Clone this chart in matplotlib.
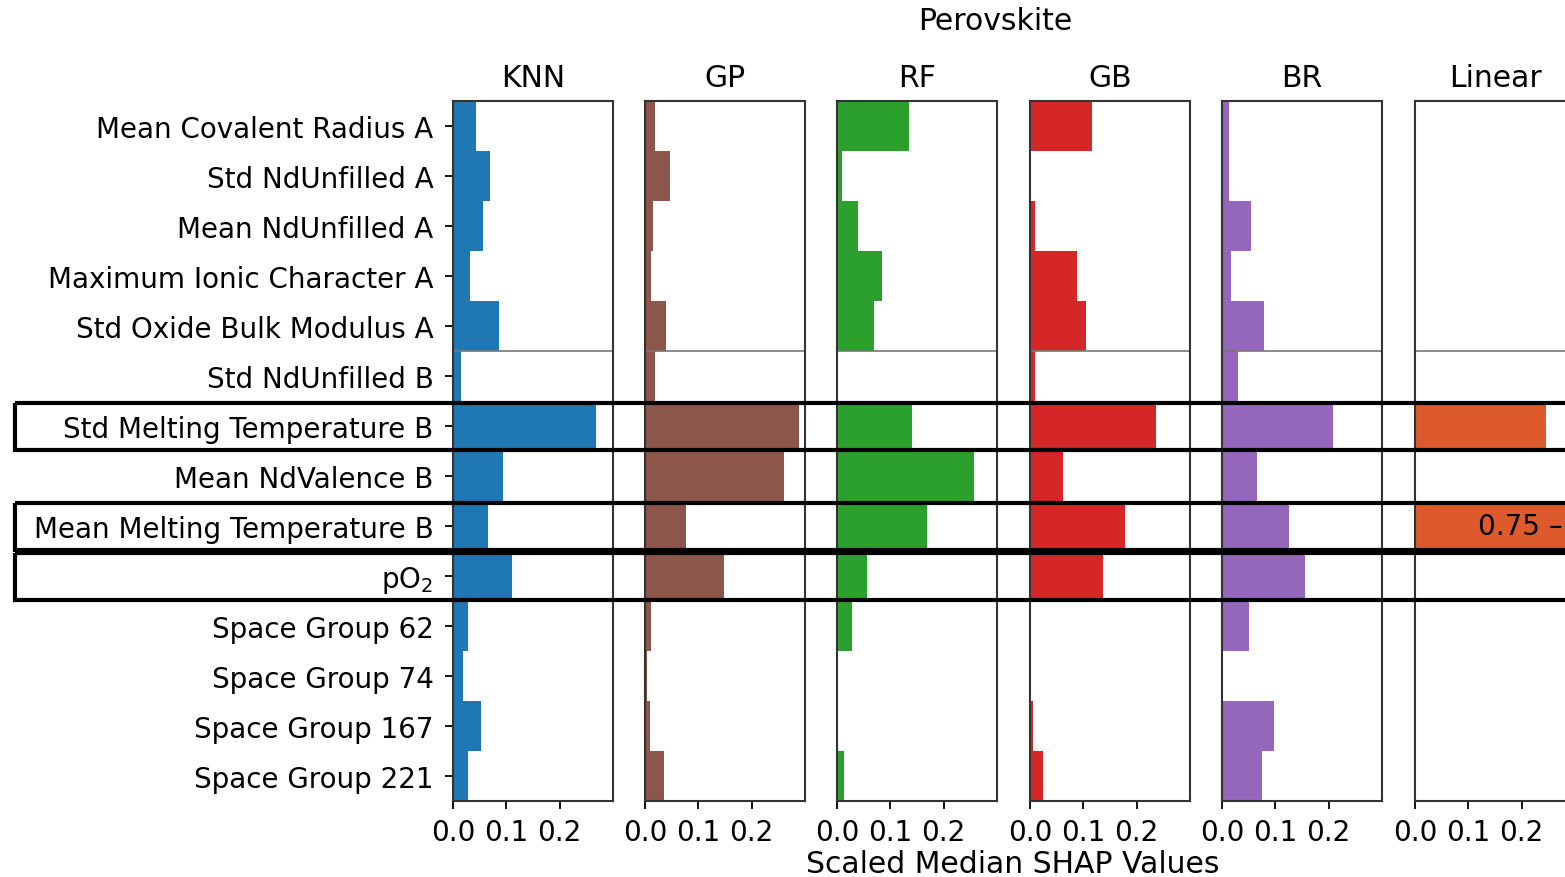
import matplotlib.pyplot as plt
import matplotlib.transforms as mtransforms
from matplotlib.patches import Rectangle

# Feature names, top to bottom
features = ['Mean Covalent Radius A', 'Std NdUnfilled A', 'Mean NdUnfilled A',
            'Maximum Ionic Character A', 'Std Oxide Bulk Modulus A', 'Std NdUnfilled B',
            'Std Melting Temperature B', 'Mean NdValence B', 'Mean Melting Temperature B',
            'pO$_2$', 'Space Group 62', 'Space Group 74', 'Space Group 167', 'Space Group 221']

models = ['KNN', 'GP', 'RF', 'GB', 'BR', 'Linear']
colors = ['#1f77b4', '#8c564b', '#2ca02c', '#d62728', '#9467bd', '#dd5a2c']

# Scaled median SHAP values
knn = [0.043, 0.069, 0.056, 0.032, 0.086, 0.015, 0.269, 0.093, 0.065, 0.110, 0.028, 0.019, 0.052, 0.028]
gp = [0.019, 0.047, 0.015, 0.011, 0.039, 0.019, 0.288, 0.260, 0.077, 0.148, 0.011, 0.004, 0.009, 0.036]
rf = [0.135, 0.009, 0.039, 0.084, 0.069, 0.002, 0.140, 0.256, 0.168, 0.056, 0.028, 0.0, 0.0, 0.013]
gb = [0.116, 0.0, 0.009, 0.088, 0.105, 0.009, 0.237, 0.062, 0.179, 0.136, 0.0, 0.0, 0.006, 0.024]
br = [0.013, 0.013, 0.054, 0.017, 0.079, 0.030, 0.209, 0.065, 0.125, 0.155, 0.050, 0.0, 0.097, 0.075]
linear = [0.0, 0.0, 0.0, 0.0, 0.0, 0.0, 0.245, 0.0, 0.75, 0.0, 0.0, 0.0, 0.0, 0.0]
values = [knn, gp, rf, gb, br, linear]

# rows framed with a black box
highlighted = ['Std Melting Temperature B', 'Mean Melting Temperature B', 'pO$_2$']

W, H = 1565, 878
fig = plt.figure(figsize=(W / 100, H / 100), dpi=100)
fs = 20      # tick labels
fs_t = 21.5  # titles and axis label

lefts = [453, 645, 837, 1030, 1222, 1415]
axes = []
for i, (name, vals, col) in enumerate(zip(models, values, colors)):
    ax = fig.add_axes([lefts[i] / W, (H - 802) / H, 160 / W, 700 / H])
    y = list(range(len(features)))
    ax.barh(y, vals, height=1.0, color=col)
    ax.set_ylim(len(features) - 0.5, -0.5)
    ax.set_xlim(0, 0.3)
    ax.set_xticks([0.0, 0.1, 0.2])
    ax.set_xticklabels(['0.0', '0.1', '0.2'])
    ax.axhline(4.5, color='#777777', lw=1.2)
    ax.set_title(name, fontsize=fs_t, pad=11)
    ax.tick_params(axis='x', labelsize=fs, length=6, width=1.3, pad=6.5)
    if i == 0:
        ax.set_yticks(y)
        ax.set_yticklabels(features, fontsize=fs)
        ax.tick_params(axis='y', length=6, width=1.3, pad=8)
    else:
        ax.set_yticks([])
    for s in ax.spines.values():
        s.set_color('#333333')
        s.set_linewidth(1.5)
    axes.append(ax)

# off-scale value label for the linear model
lin = axes[-1]
k = features.index('Mean Melting Temperature B')
lin.text(0.118, k, f'{linear[k]:.2f} –', fontsize=fs, va='center', ha='left', clip_on=False)

# black boxes spanning the figure width, drawn on top of all panels
blend = mtransforms.blended_transform_factory(fig.transFigure, axes[0].transData)
for f in highlighted:
    r = features.index(f)
    box = Rectangle((15 / W, r - 0.47), 1.0, 0.94, transform=blend, fill=False,
                    ec='black', lw=3, zorder=10)
    fig.add_artist(box)

fig.text(995 / W, 1 - 22 / H, 'Perovskite', fontsize=fs_t, ha='center', va='center')
fig.text(1013 / W, 1 - 865 / H, 'Scaled Median SHAP Values', fontsize=fs_t, ha='center', va='center')

fig.savefig('out.png', dpi=100)
